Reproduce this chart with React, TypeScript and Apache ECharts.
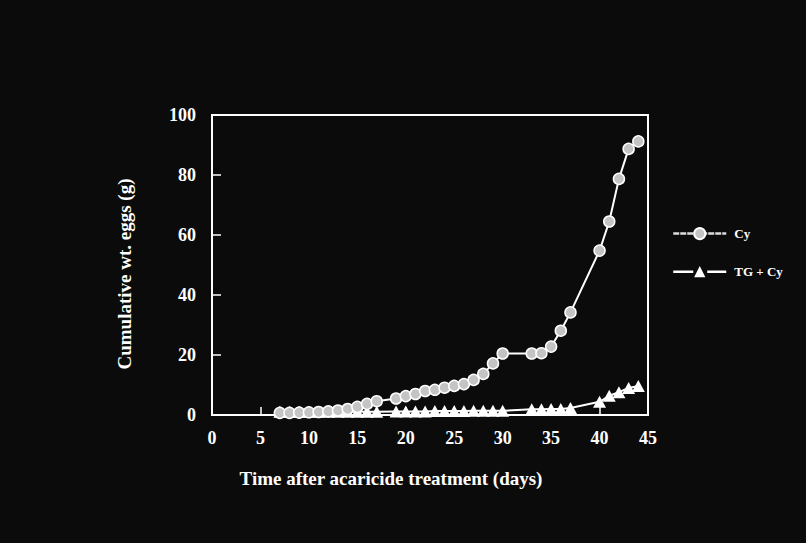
import React, { useEffect, useRef } from "react";
import * as echarts from "echarts";

const days = [7, 8, 9, 10, 11, 12, 13, 14, 15, 16, 17, 19, 20, 21, 22, 23, 24, 25, 26, 27, 28, 29, 30, 33, 34, 35, 36, 37, 40, 41, 42, 43, 44];
const cyValues = [0.7, 0.7, 0.8, 0.9, 1.0, 1.2, 1.5, 2.0, 2.7, 3.7, 4.6, 5.5, 6.3, 7.0, 8.0, 8.4, 9.1, 9.7, 10.3, 11.7, 13.7, 17.2, 20.5, 20.5, 20.6, 22.8, 28.1, 34.2, 54.8, 64.5, 78.7, 88.7, 91.2];
const tgValues = [1.1, 1.1, 1.1, 1.1, 1.1, 1.1, 1.1, 1.1, 1.1, 1.1, 1.1, 1.2, 1.2, 1.2, 1.2, 1.3, 1.3, 1.3, 1.3, 1.4, 1.4, 1.4, 1.4, 1.9, 1.9, 2.0, 2.0, 2.3, 4.4, 6.4, 7.6, 9.0, 9.7];
const seriesNames = ["Cy", "TG + Cy"];
const xTitle = "Time after acaricide treatment (days)";
const yTitle = "Cumulative wt. eggs (g)";

const FONT = "'Liberation Serif', 'DejaVu Serif', serif";

export default function App() {
  const ref = useRef<HTMLDivElement>(null);
  useEffect(() => {
    if (!ref.current) return;
    const chart = echarts.init(ref.current, undefined, { renderer: "svg" });
    const labelStyle = { color: "#fff", fontFamily: FONT, fontWeight: "bold" as const, fontSize: 18 };
    chart.setOption({
      animation: false,
      backgroundColor: "#0b0b0b",
      grid: { left: 212, right: 158, top: 115, bottom: 128, show: true, borderColor: "#fff", borderWidth: 2, backgroundColor: "transparent" },
      xAxis: {
        type: "value", min: 0, max: 45, interval: 5,
        axisLine: { show: true, lineStyle: { color: "#fff", width: 2 } },
        axisTick: { show: true, inside: true, length: 8, lineStyle: { color: "#fff", width: 1.5 } },
        axisLabel: { ...labelStyle, margin: 14 },
        splitLine: { show: false },
      },
      yAxis: {
        type: "value", min: 0, max: 100, interval: 20,
        axisLine: { show: true, lineStyle: { color: "#fff", width: 2 } },
        axisTick: { show: true, inside: true, length: 9, lineStyle: { color: "#fff", width: 1.5 } },
        axisLabel: { ...labelStyle, margin: 16 },
        splitLine: { show: false },
      },
      legend: {
        orient: "vertical",
        left: 667,
        top: 222,
        itemWidth: 53,
        itemHeight: 14,
        itemGap: 25,
        textStyle: { color: "#fff", fontFamily: FONT, fontWeight: "bold", fontSize: 13, padding: [0, 0, 0, 3] },
        data: [
          { name: seriesNames[0], lineStyle: { type: [6, 1], width: 2.5, color: "#ddd" } },
          { name: seriesNames[1], lineStyle: { type: [20, 14], width: 2.5 } },
        ],
      },
      graphic: [
        { type: "text", x: 391, y: 478, style: { text: xTitle, fill: "#fff", font: `bold 19px ${FONT}`, align: "center", verticalAlign: "middle" } },
        { type: "text", x: 124, y: 274, rotation: Math.PI / 2, style: { text: yTitle, fill: "#fff", font: `bold 19px ${FONT}`, align: "center", verticalAlign: "middle" } },
      ],
      series: [
        {
          name: seriesNames[1],
          type: "line",
          data: days.map((d, i) => [d, tgValues[i]]),
          symbol: "triangle",
          symbolSize: [13, 12],
          clip: false,
          lineStyle: { color: "#fff", width: 2 },
          itemStyle: { color: "#fff", borderColor: "#fff", borderWidth: 0 },
          z: 2,
        },
        {
          name: seriesNames[0],
          type: "line",
          data: days.map((d, i) => [d, cyValues[i]]),
          symbol: "circle",
          symbolSize: 11,
          clip: false,
          lineStyle: { color: "#fff", width: 2 },
          itemStyle: { color: "#c4c4c4", borderColor: "#fff", borderWidth: 1.5 },
          z: 3,
        },
      ],
    });
    return () => chart.dispose();
  }, []);
  return <div ref={ref} style={{ position: "fixed", left: 0, top: 0, width: 806, height: 543 }} />;
}
